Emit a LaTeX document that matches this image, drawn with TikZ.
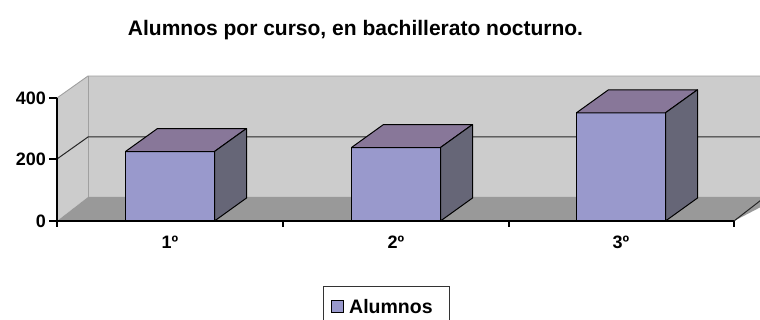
\documentclass[tikz,border=0pt]{standalone}
\usepackage{fontspec}
\setmainfont{Liberation Sans}
\usetikzlibrary{calc}

\definecolor{wallgray}{HTML}{CCCCCC}
\definecolor{floorgray}{HTML}{999999}
\definecolor{edgegray}{HTML}{A0A0A0}
\definecolor{barfront}{HTML}{9999CC}
\definecolor{bartop}{HTML}{887799}
\definecolor{barside}{HTML}{666677}

\newcommand*{\xMin}{57}
\newcommand*{\xMax}{734}
\newcommand*{\yBase}{221}
\newcommand*{\dX}{31}
\newcommand*{\dY}{24}
\newcommand*{\bX}{32}
\newcommand*{\bY}{23}
\newcommand*{\pxPer}{0.3075}

\tikzset{
  wall/.style={fill=wallgray},
  edge/.style={draw=edgegray, line width=0.9pt},
  grid/.style={draw=black!85, line width=1pt},
  axis/.style={draw=black, line width=1.2pt},
  face/.style={draw=black, line width=1pt, line join=round},
  ticklabel/.style={font=\fontsize{18}{20}\selectfont\bfseries, inner sep=0pt},
  legendlabel/.style={font=\fontsize{19.5}{22}\selectfont\bfseries, inner sep=0pt},
  charttitle/.style={font=\fontsize{21}{24}\selectfont\bfseries, inner sep=0pt}
}

\begin{document}
\begin{tikzpicture}[x=1pt,y=-1pt]
    \useasboundingbox (0,0) rectangle (760,320);
    \clip (0,0) rectangle (760,320);

    \node[charttitle, anchor=base] (title) at (355.5,36) {Alumnos por curso, en bachillerato nocturno.};

    % walls and floor
    \fill[wall] (\xMin+\dX,76) rectangle (780,\yBase-\dY);
    \fill[wall] (\xMin,98) -- (\xMin+\dX,76) -- (\xMin+\dX,\yBase-\dY) -- (\xMin,\yBase) -- cycle;
    \fill[floorgray] (\xMin,\yBase) -- (\xMin+\dX,\yBase-\dY) -- (780,\yBase-\dY) -- (\xMax+\dX+15,\yBase-\dY) -- (\xMax,\yBase) -- cycle;
    \draw[edge] (\xMin,98) -- (\xMin+\dX,76) -- (780,76);
    \draw[edge] (\xMin+\dX,76) -- (\xMin+\dX,\yBase-\dY);
    \draw[grid] (\xMax,\yBase) -- ++(\dX,-\dY);

    % gridline 200
    \draw[grid] (\xMin,159) -- (\xMin+\dX,137) -- (780,137);

    % axes
    \draw[axis] (\xMin,98) -- (\xMin,\yBase) -- (\xMax,\yBase);
    \foreach \y/\lab in {98/400,159/200,221/0} {
        \draw[axis] (\xMin-8,\y) -- (\xMin,\y);
        \node[ticklabel, anchor=east] (ylab\lab) at (\xMin-11,\y) {\lab};
    }
    \foreach \x in {57,283,509,734} {
        \draw[axis] (\x,\yBase) -- (\x,\yBase+6);
    }

    % bars
    \foreach \n/\cx/\val in {1/170/226,2/396/239,3/621/352} {
        \coordinate (fl\n) at (\cx-44.5,\yBase);
        \coordinate (fr\n) at (\cx+44.5,\yBase);
        \coordinate (tl\n) at (\cx-44.5,\yBase-\val*\pxPer);
        \coordinate (tr\n) at (\cx+44.5,\yBase-\val*\pxPer);
        \draw[face, fill=barfront] (fl\n) rectangle (tr\n);
        \draw[face, fill=bartop] (tl\n) -- (tr\n) -- ++(\bX,-\bY) -- ++(-89,0) -- cycle;
        \draw[face, fill=barside] (fr\n) -- (tr\n) -- ++(\bX,-\bY) -- ++(0,\val*\pxPer) -- cycle;
        \node[ticklabel, anchor=base] (xlab\n) at (\cx,249) {\n º};
    }

    % legend
    \draw[draw=black!80, line width=1pt] (323,287) rectangle (449,325);
    \draw[draw=black, line width=1pt, fill=barfront] (331,300) rectangle (343,312);
    \node[legendlabel, anchor=base west] (legend) at (349,313) {Alumnos};

\end{tikzpicture}
\end{document}
